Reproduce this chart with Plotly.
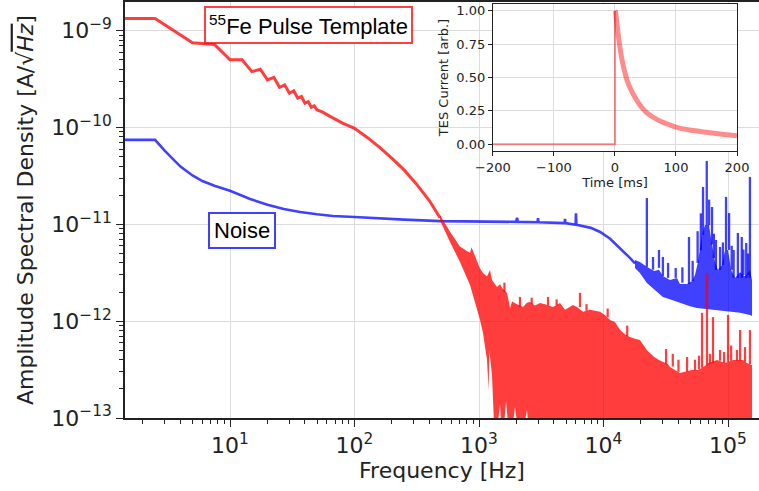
import plotly.graph_objects as go

# ---------------- main panel data (frequency [Hz], ASD [A/sqrt(Hz)]) ----------------
# Pulse template, low-frequency part (thin line)
red_freq_lf = [1.25, 2.5, 5.0, 7.5, 10.0, 12.5, 15.0, 17.5, 20.0, 22.5, 25.0, 27.5,
               30.0, 32.5, 35.0, 37.5, 40.0, 42.5, 45.0, 47.5, 50.0, 55.0, 60.0, 65.0,
               70.0, 80.0, 90.0, 100.0, 125.0, 160.0, 200.0, 250.0, 315.0, 400.0, 486.0]
red_asd_lf = [1.34e-9, 1.34e-9, 7.5e-10, 7.2e-10, 5.0e-10, 5.0e-10, 3.78e-10, 4.0e-10,
              3.1e-10, 3.3e-10, 2.6e-10, 2.75e-10, 2.26e-10, 2.4e-10, 2.01e-10, 2.09e-10,
              1.78e-10, 1.85e-10, 1.62e-10, 1.67e-10, 1.52e-10, 1.45e-10, 1.36e-10, 1.28e-10,
              1.21e-10, 1.11e-10, 1.04e-10, 9.8e-11, 8.0e-11, 6.2e-11, 4.8e-11, 3.65e-11,
              2.6e-11, 1.75e-11, 1.17e-11]

# Pulse template, high-frequency noisy band: upper and lower edges
red_band_top = [(486, 1.25e-11), (585, 8.4e-12), (703, 5.9e-12), (847, 5.07e-12), (870, 5.8e-12),
                (929, 4.61e-12), (1019, 3.5e-12), (1077, 3.15e-12), (1159, 2.9e-12), (1225, 3.38e-12),
                (1271, 2.67e-12), (1396, 2.26e-12), (1476, 2.4e-12), (1532, 2.2e-12), (1680, 1.96e-12),
                (1775, 1.37e-12), (1842, 1.6e-12), (2019, 1.5e-12), (2254, 1.4e-12), (2430, 1.55e-12),
                (2568, 1.58e-12), (2818, 1.45e-12), (3092, 1.54e-12), (3391, 1.5e-12), (3927, 1.4e-12),
                (4474, 1.54e-12), (4909, 1.31e-12), (5688, 1.47e-12), (6124, 1.4e-12), (6843, 1.25e-12),
                (7790, 1.31e-12), (8547, 1.28e-12), (9376, 1.25e-12), (10290, 1.15e-12), (11300, 1.03e-12),
                (12360, 9.8e-13), (13600, 8.11e-13), (14900, 7.3e-13), (16300, 6.87e-13), (17900, 6.6e-13),
                (19600, 6.4e-13), (22300, 5.04e-13), (25500, 4.27e-13), (27900, 3.98e-13), (33000, 3.6e-13),
                (34200, 3.37e-13), (41100, 2.92e-13), (51400, 3.14e-13), (57400, 3.14e-13), (63500, 3.37e-13),
                (70000, 3.7e-13), (81700, 3.98e-13), (94600, 3.7e-13), (110000, 3.98e-13), (132000, 3.98e-13),
                (142000, 3.7e-13), (156000, 3.5e-13)]
red_band_bottom = [(486, 1.1e-11), (585, 6.58e-12), (703, 4.09e-12), (847, 2.37e-12), (1019, 1.03e-12),
                   (1077, 7.55e-13), (1159, 4.0e-13), (1195, 1.95e-13), (1210, 5.0e-13), (1271, 2.8e-13),
                   (1344, 5e-14), (1476, 1.4e-13), (1532, 5e-14), (1649, 1.5e-13), (1775, 5e-14),
                   (1946, 1.3e-13), (2133, 5e-14), (2430, 1.2e-13), (2568, 5e-14), (156000, 5e-14)]
# Pulse template spikes: (frequency, base, peak)
red_spikes = [(1600, 2.0e-12, 2.5e-12), (2133, 1.4e-12, 1.78e-12), (2650, 1.5e-12, 1.75e-12),
              (3582, 1.45e-12, 1.78e-12), (4200, 1.45e-12, 1.68e-12), (6472, 1.4e-12, 1.96e-12),
              (7300, 1.28e-12, 1.5e-12), (10800, 1.1e-12, 1.35e-12), (15500, 7.0e-13, 9.0e-13),
              (31800, 3.6e-13, 5.16e-13), (36000, 3.4e-13, 4.6e-13), (40000, 3.0e-13, 4.0e-13),
              (46900, 3.0e-13, 4.27e-13), (54300, 3.1e-13, 4.0e-13), (58500, 3.2e-13, 4.4e-13),
              (61800, 3.3e-13, 1.22e-12), (67800, 3.5e-13, 3.15e-12), (71500, 3.6e-13, 4.6e-13),
              (75800, 3.7e-13, 1.10e-12), (86300, 3.9e-13, 5.04e-13), (93000, 3.7e-13, 4.8e-13),
              (100000, 3.8e-13, 1.16e-12), (106000, 3.9e-13, 5.6e-13), (118000, 3.9e-13, 5.04e-13),
              (125000, 3.9e-13, 8.11e-13), (137000, 3.8e-13, 5.4e-13), (150000, 3.6e-13, 8.1e-13)]

# Noise, low/mid-frequency part (line)
blue_freq_lf = [1.25, 2.5, 3.0, 3.5, 4.0, 5.0, 6.0, 7.5, 10.0, 14.5, 20.0, 27.0, 36.5, 50.0,
                67.0, 100.0, 160.0, 250.0, 490.0, 1000.0, 1990.0, 2020.0, 2050.0, 2950.0,
                2980.0, 3010.0, 4880.0, 4910.0, 4940.0, 5970.0, 6010.0, 6050.0, 7900.0,
                9400.0, 11300.0, 13600.0, 16300.0, 17900.0]
blue_asd_lf = [7.46e-11, 7.46e-11, 5.75e-11, 4.7e-11, 3.95e-11, 3.2e-11, 2.8e-11, 2.5e-11,
               2.22e-11, 1.83e-11, 1.59e-11, 1.44e-11, 1.34e-11, 1.27e-11, 1.22e-11, 1.19e-11,
               1.15e-11, 1.12e-11, 1.08e-11, 1.07e-11, 1.06e-11, 1.17e-11, 1.06e-11, 1.05e-11,
               1.16e-11, 1.05e-11, 1.03e-11, 1.14e-11, 1.03e-11, 9.9e-12, 1.3e-11, 9.9e-12,
               9.2e-12, 8.34e-12, 7.1e-12, 5.7e-12, 4.5e-12, 3.95e-12]
# Noise, high-frequency band edges
blue_band_top = [(17900, 4.29e-12), (19600, 4.09e-12), (22300, 3.64e-12), (25500, 3.3e-12),
                 (27900, 3.4e-12), (30000, 2.93e-12), (34200, 2.67e-12), (38900, 2.8e-12),
                 (41100, 2.42e-12), (46900, 2.42e-12), (51400, 2.6e-12), (54300, 3.0e-12),
                 (57400, 4.09e-12), (59600, 5.44e-12), (61800, 7.8e-12), (65400, 9.86e-12),
                 (70300, 9.86e-12), (74400, 6.2e-12), (78700, 4.09e-12), (83000, 3.38e-12),
                 (89400, 3.8e-12), (94600, 5.44e-12), (100000, 5.44e-12), (106000, 3.38e-12),
                 (114000, 2.8e-12), (125000, 3.2e-12), (137000, 2.9e-12), (150000, 3.38e-12),
                 (156000, 2.67e-12)]
blue_band_bottom = [(17900, 3.55e-12), (19600, 3.15e-12), (22300, 2.48e-12), (25900, 2.1e-12),
                    (30000, 1.78e-12), (35000, 1.66e-12), (41100, 1.54e-12), (49500, 1.43e-12),
                    (56400, 1.37e-12), (65400, 1.33e-12), (75800, 1.31e-12), (89400, 1.28e-12),
                    (104000, 1.25e-12), (125000, 1.22e-12), (150000, 1.16e-12), (156000, 1.13e-12)]
# Noise spikes: (frequency, base, peak)
blue_spikes = [(22300, 3.64e-12, 1.87e-11), (25000, 3.4e-12, 4.6e-12), (27900, 3.55e-12, 5.44e-12),
               (30000, 2.93e-12, 4.61e-12), (33000, 2.8e-12, 4.0e-12), (38000, 2.8e-12, 3.55e-12),
               (43000, 2.5e-12, 3.6e-12), (48600, 2.42e-12, 7.41e-12), (52000, 2.6e-12, 4.2e-12),
               (57000, 4.0e-12, 8.5e-12), (60500, 5.4e-12, 1.3e-11), (63000, 7.8e-12, 2.43e-11),
               (67500, 9.86e-12, 4.52e-11), (70500, 9.8e-12, 1.8e-11), (74400, 6.2e-12, 1.51e-11),
               (77000, 4.5e-12, 8.0e-12), (80000, 3.38e-12, 6.9e-12), (86300, 3.38e-12, 5.84e-12),
               (91000, 3.8e-12, 6.5e-12), (96400, 5.44e-12, 1.92e-11), (102000, 5.44e-12, 1.31e-11),
               (107000, 3.4e-12, 6.0e-12), (111000, 2.8e-12, 5.44e-12), (120000, 2.8e-12, 8.15e-12),
               (129000, 2.8e-12, 7.41e-12), (133000, 3.0e-12, 5.5e-12), (140000, 2.8e-12, 6.42e-12),
               (145000, 3.0e-12, 5.0e-12), (150000, 2.8e-12, 3.09e-11)]

# ---------------- inset data (time [ms], TES current [arb.]) ----------------
inset_time_step = [-200, 0, 0]
inset_current_step = [0.0, 0.0, 1.0]
inset_time_decay = [0, 1, 2, 3, 5, 7, 10, 12.5, 15, 17.5, 20, 25, 30, 35, 40, 45, 50,
                    60, 70, 80, 90, 100, 125, 150, 175, 200]
inset_current_decay = [1.0, 0.99, 0.95, 0.91, 0.83, 0.76, 0.67, 0.61, 0.56, 0.515, 0.475,
                       0.42, 0.375, 0.335, 0.30, 0.27, 0.245, 0.21, 0.183, 0.162, 0.145,
                       0.128, 0.105, 0.09, 0.076, 0.064]

# tick labels
x_tick_vals = [1e1, 1e2, 1e3, 1e4, 1e5]
x_tick_text = ["10<sup>1</sup>", "10<sup>2</sup>", "10<sup>3</sup>", "10<sup>4</sup>", "10<sup>5</sup>"]
y_tick_vals = [1e-13, 1e-12, 1e-11, 1e-10, 1e-9]
y_tick_text = ["10<sup>\u221213</sup>", "10<sup>\u221212</sup>", "10<sup>\u221211</sup>",
               "10<sup>\u221210</sup>", "10<sup>\u22129</sup>"]
inset_x_ticks = [-200, -100, 0, 100, 200]
inset_y_ticks = [0.0, 0.25, 0.5, 0.75, 1.0]
inset_y_text = ["0.00", "0.25", "0.50", "0.75", "1.00"]

RED = "rgba(255,0,0,0.76)"
BLUE = "rgba(0,0,255,0.75)"
PINK = "rgba(255,0,0,0.45)"
AX = "#222222"
FONT = "DejaVu Sans"


def band(top, bottom):
    xs = [p[0] for p in top] + [p[0] for p in reversed(bottom)]
    ys = [p[1] for p in top] + [p[1] for p in reversed(bottom)]
    return xs, ys


def spikes(items):
    xs, ys = [], []
    for f, b, p in items:
        xs += [f, f, None]
        ys += [b, p, None]
    return xs, ys


fig = go.Figure()

# Noise
fig.add_trace(go.Scatter(x=blue_freq_lf, y=blue_asd_lf, mode="lines",
                         line=dict(color=BLUE, width=2.6), hoverinfo="skip"))
bx, by = band(blue_band_top, blue_band_bottom)
fig.add_trace(go.Scatter(x=bx, y=by, mode="lines", fill="toself", fillcolor=BLUE,
                         line=dict(width=0, color=BLUE), hoverinfo="skip"))
sx, sy = spikes(blue_spikes)
fig.add_trace(go.Scatter(x=sx, y=sy, mode="lines", line=dict(color=BLUE, width=2.3),
                         hoverinfo="skip"))

# Pulse template
fig.add_trace(go.Scatter(x=red_freq_lf, y=red_asd_lf, mode="lines",
                         line=dict(color=RED, width=3), hoverinfo="skip"))
rx, ry = band(red_band_top, red_band_bottom)
fig.add_trace(go.Scatter(x=rx, y=ry, mode="lines", fill="toself", fillcolor=RED,
                         line=dict(width=0, color=RED), hoverinfo="skip"))
sx, sy = spikes(red_spikes)
fig.add_trace(go.Scatter(x=sx, y=sy, mode="lines", line=dict(color=RED, width=2.2),
                         hoverinfo="skip"))

# Inset
fig.add_trace(go.Scatter(x=inset_time_step, y=inset_current_step, mode="lines",
                         line=dict(color=PINK, width=2), xaxis="x2", yaxis="y2", hoverinfo="skip"))
fig.add_trace(go.Scatter(x=inset_time_decay, y=inset_current_decay, mode="lines",
                         line=dict(color=PINK, width=5, shape="spline", smoothing=0.6),
                         xaxis="x2", yaxis="y2", hoverinfo="skip"))

minor_log = [m * 10 ** k for k in range(-14, 6) for m in range(2, 10)]

fig.update_layout(
    width=759, height=491,
    margin=dict(l=125, r=0, t=2, b=73, pad=0, autoexpand=False),
    paper_bgcolor="white", plot_bgcolor="white",
    showlegend=False,
    font=dict(family=FONT, color=AX),
    xaxis=dict(
        type="log", range=[0.1566, 5.249], domain=[0, 1], anchor="y", automargin=False,
        showline=True, linecolor=AX, linewidth=1.5, mirror=True,
        ticks="outside", ticklen=7, tickwidth=1.2, tickcolor=AX,
        tickmode="array", tickvals=x_tick_vals, ticktext=x_tick_text,
        tickfont=dict(family=FONT, size=22, color=AX),
        showgrid=True, gridcolor="#dcdcdc", gridwidth=1, zeroline=False,
        minor=dict(tickmode="array", tickvals=[v for v in minor_log if v > 1],
                   ticks="outside", ticklen=4, tickwidth=1, tickcolor=AX, showgrid=False),
        title=dict(text="Frequency [Hz]", font=dict(family=FONT, size=22, color=AX), standoff=4),
    ),
    yaxis=dict(
        type="log", range=[-13, -8.7035], domain=[0, 1], anchor="x", automargin=False,
        showline=True, linecolor=AX, linewidth=1.5,
        ticks="outside", ticklen=7, tickwidth=1.2, tickcolor=AX,
        tickmode="array", tickvals=y_tick_vals, ticktext=y_tick_text,
        tickfont=dict(family=FONT, size=22, color=AX),
        showgrid=True, gridcolor="#dcdcdc", gridwidth=1, zeroline=False,
        minor=dict(tickmode="array", tickvals=[v for v in minor_log if v < 1e-8],
                   ticks="outside", ticklen=4, tickwidth=1, tickcolor=AX, showgrid=False),
        title=dict(text="Amplitude Spectral Density [A/\u221a<span style=\"text-decoration:overline\"><i>Hz</i></span>]",
                   font=dict(family=FONT, size=22, color=AX), standoff=12),
    ),
    xaxis2=dict(
        domain=[0.5804, 0.9653], anchor="y2", range=[-200, 200], automargin=False,
        showline=True, linecolor=AX, linewidth=1.2, mirror=True,
        ticks="outside", ticklen=4, tickwidth=1, tickcolor=AX,
        tickmode="array", tickvals=inset_x_ticks,
        tickfont=dict(family=FONT, size=13, color=AX),
        showgrid=True, gridcolor="#dcdcdc", gridwidth=1, zeroline=False,
        title=dict(text="Time [ms]", font=dict(family=FONT, size=13, color=AX), standoff=2),
    ),
    yaxis2=dict(
        domain=[0.6418, 0.9952], anchor="x2", range=[-0.05, 1.05], automargin=False,
        showline=True, linecolor=AX, linewidth=1.2, mirror=True,
        ticks="outside", ticklen=4, tickwidth=1, tickcolor=AX,
        tickmode="array", tickvals=inset_y_ticks, ticktext=inset_y_text,
        tickfont=dict(family=FONT, size=13, color=AX),
        showgrid=True, gridcolor="#dcdcdc", gridwidth=1, zeroline=False,
        title=dict(text="TES Current [arb.]", font=dict(family=FONT, size=13, color=AX), standoff=4),
    ),
    annotations=[
        dict(text="<sup>55</sup>Fe Pulse Template", xref="paper", yref="paper",
             x=0.2894, y=0.9459, xanchor="center", yanchor="middle", showarrow=False,
             font=dict(family="Liberation Sans", size=22, color="black"),
             bgcolor="white", bordercolor="rgba(255,0,0,0.75)", borderwidth=2, borderpad=3),
        dict(text="Noise", xref="paper", yref="paper",
             x=0.1845, y=0.4507, xanchor="center", yanchor="middle", showarrow=False,
             font=dict(family="Liberation Sans", size=22, color="black"),
             bgcolor="white", bordercolor="rgba(0,0,255,0.75)", borderwidth=2, borderpad=4),
    ],
)

fig.write_html("out.html", config={"displayModeBar": False},
               post_script="document.body.style.margin='0';document.body.style.padding='0';")
